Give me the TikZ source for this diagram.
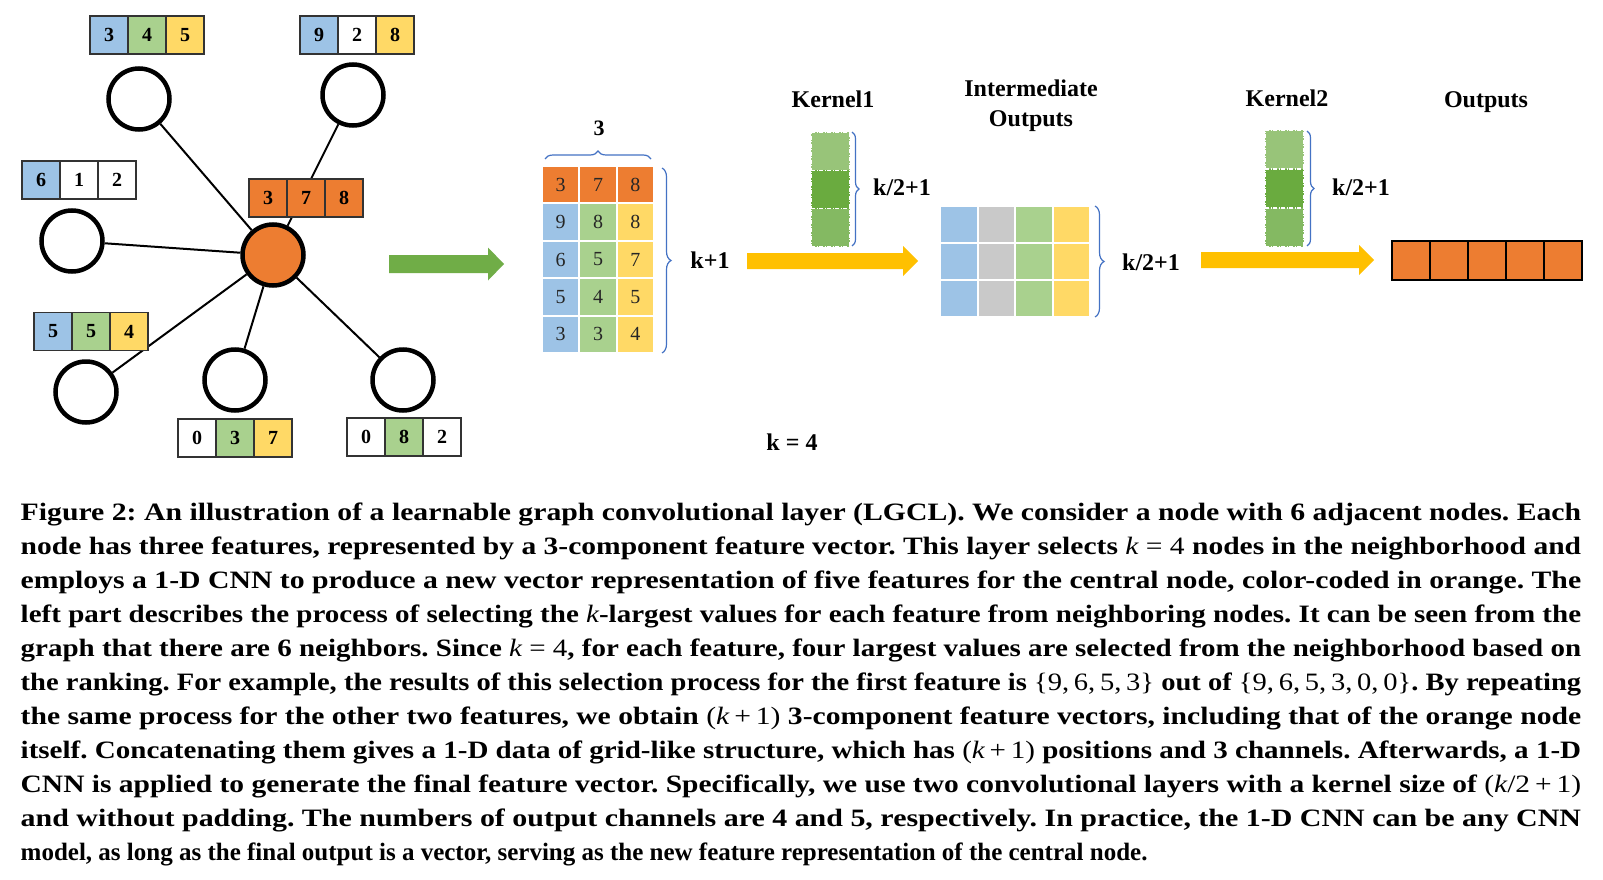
\documentclass[tikz,border=0pt]{standalone}
\usepackage{fontspec}
\setmainfont{Liberation Serif}
\usetikzlibrary{decorations.pathreplacing,calc}
\newcommand\myfs[1]{\fontsize{#1}{#1}\selectfont}
\newcommand\kit{{\mdseries\itshape k}}
\newcommand\fitline[2]{\frenchspacing\setbox0=\hbox{#2}\pgfmathsetmacro\fitsx{#1/\the\wd0}\scalebox{\fitsx}[1]{\box0}}
\definecolor{cblue}{HTML}{9DC3E6}
\definecolor{cgreen}{HTML}{A9D18E}
\definecolor{cyellow}{HTML}{FFD966}
\definecolor{corange}{HTML}{ED7D31}
\definecolor{cgray}{HTML}{C9C9C9}
\definecolor{garrow}{HTML}{70AD47}
\definecolor{yarrow}{HTML}{FFC000}
\definecolor{bracec}{HTML}{4472C4}
\definecolor{kA}{HTML}{98C479}
\definecolor{kB}{HTML}{6AAB3F}
\definecolor{kC}{HTML}{84B962}
\newcommand\featbox[9]{%
  \node[fcell,fill=#4] (#1a) at (#2+19,#3) {#7};
  \node[fcell,fill=#5] (#1b) at (#2+57,#3) {#8};
  \node[fcell,fill=#6] (#1c) at (#2+95,#3) {#9};}
\newcommand\fatarrow[6]{%
  \fill[#6] ($(#1)+(0,-#3)$) -- ($(#2)+(-#5,-#3)$) -- ($(#2)+(-#5,-#4)$) -- (#2)
    -- ($(#2)+(-#5,#4)$) -- ($(#2)+(-#5,#3)$) -- ($(#1)+(0,#3)$) -- cycle;}
\tikzset{
  gnode/.style={circle, draw, line width=4.5pt, fill=white, minimum size=61pt, inner sep=0pt},
  edge/.style={line width=2pt},
  fcell/.style={draw=black!80, line width=1.3pt, minimum width=38pt, minimum height=38pt, inner sep=0pt, font=\bfseries\myfs{20}},
  mcell/.style={draw=white, line width=2pt, minimum width=37.33pt, minimum height=37.4pt, inner sep=0pt, font=\myfs{20}, text=black!85},
  icell/.style={draw=white, line width=2pt, minimum width=37.5pt, minimum height=37pt, inner sep=0pt},
  kcell/.style={draw=white, line width=1.2pt, dash pattern=on 4pt off 1.5pt on 1pt off 1.5pt, minimum width=39pt, minimum height=38.3pt, inner sep=0pt},
  ocell/.style={draw=black, line width=2pt, fill=corange, minimum width=38pt, minimum height=39pt, inner sep=0pt},
  lbl/.style={font=\bfseries\myfs{24}, inner sep=0pt},
  bracedraw/.style={draw=bracec, line width=1.2pt, decorate},
  capline/.style={anchor=base west, inner sep=0pt, font=\bfseries\myfs{25}},
}
\begin{document}
\begin{tikzpicture}[x=1pt,y=-1pt]
\useasboundingbox (0,0) rectangle (1603,880);
\fill[white] (0,0) rectangle (1603,880);
% graph
\node[gnode] (n1) at (139,99) {};
\node[gnode] (n2) at (353,95) {};
\node[gnode] (n3) at (72,241) {};
\node[gnode] (n4) at (86,392) {};
\node[gnode] (n5) at (235,380) {};
\node[gnode] (n6) at (403,380) {};
\node[gnode, fill=corange] (c) at (273,255) {};
\foreach \n in {n1,n2,n3,n4,n5,n6} \draw[edge] (c) -- (\n);
\featbox{fa}{90}{35}{cblue}{cgreen}{cyellow}{3}{4}{5}
\featbox{fb}{300}{35}{cblue}{white}{cyellow}{9}{2}{8}
\featbox{fc}{22}{180}{cblue}{white}{white}{6}{1}{2}
\featbox{fo}{249}{198}{corange}{corange}{corange}{3}{7}{8}
\featbox{fd}{34}{331.5}{cblue}{cgreen}{cyellow}{5}{5}{4}
\featbox{fe}{178}{438}{white}{cgreen}{cyellow}{0}{3}{7}
\featbox{ff}{347}{437}{white}{cgreen}{white}{0}{8}{2}
% green arrow
\coordinate (ga1) at (389,264);
\coordinate (ga2) at (504,264);
\fatarrow{ga1}{ga2}{9}{16.5}{16}{garrow}
% matrix
\foreach \r/\a/\b/\cc/\y in {2/9/8/8/222.1, 3/6/5/7/259.5, 4/5/4/5/296.9, 5/3/3/4/334.3}{
  \node[mcell,fill=cblue] (m\r1) at (560.7,\y) {\a};
  \node[mcell,fill=cgreen] (m\r2) at (598,\y) {\b};
  \node[mcell,fill=cyellow] (m\r3) at (635.3,\y) {\cc};
}
\node[mcell,fill=corange] (m11) at (560.7,184.7) {3};
\node[mcell,fill=corange] (m12) at (598,184.7) {7};
\node[mcell,fill=corange] (m13) at (635.3,184.7) {8};
\draw[bracedraw, decoration={brace, amplitude=8pt}] (545,159) -- (651,159);
\node[lbl, font=\bfseries\myfs{22}] (l3) at (599,128) {3};
\draw[bracedraw, decoration={brace, amplitude=9pt}] (662,168) -- (662,353);
\node[lbl] (lk1) at (710,260) {k+1};
% kernel 1
\node[lbl] (lker1) at (833,99) {Kernel1};
\node[kcell, fill=kA] (k11) at (830.5,151.2) {};
\node[kcell, fill=kB] (k12) at (830.5,189.5) {};
\node[kcell, fill=kC] (k13) at (830.5,227.8) {};
\draw[bracedraw, decoration={brace, amplitude=7pt}] (852,132) -- (852,246);
\node[lbl] (lk2) at (902,187) {k/2+1};
% yellow arrow 1
\coordinate (ya1) at (747,261);
\coordinate (ya2) at (918,261);
\fatarrow{ya1}{ya2}{8}{15}{15}{yarrow}
% intermediate
\node[lbl, align=center] (linter) at (1031,106) {Intermediate\\[6pt]Outputs};
\foreach \r/\y in {1/224.5, 2/261.5, 3/298.5}{
  \node[icell,fill=cblue] (i\r1) at (958.75,\y) {};
  \node[icell,fill=cgray] (i\r2) at (996.25,\y) {};
  \node[icell,fill=cgreen] (i\r3) at (1033.75,\y) {};
  \node[icell,fill=cyellow] (i\r4) at (1071.25,\y) {};
}
\draw[bracedraw, decoration={brace, amplitude=9pt}] (1095,206) -- (1095,317);
\node[lbl] (lk3) at (1151,262) {k/2+1};
% kernel 2
\node[lbl] (lker2) at (1287,98) {Kernel2};
\node[kcell, fill=kA] (k21) at (1284.5,149.5) {};
\node[kcell, fill=kB] (k22) at (1284.5,188.5) {};
\node[kcell, fill=kC] (k23) at (1284.5,227.5) {};
\draw[bracedraw, decoration={brace, amplitude=7pt}] (1307,131) -- (1307,246);
\node[lbl] (lk4) at (1361,187) {k/2+1};
% yellow arrow 2
\coordinate (yb1) at (1201,260);
\coordinate (yb2) at (1374,260);
\fatarrow{yb1}{yb2}{8}{15}{15}{yarrow}
% outputs
\node[lbl] (lout) at (1486,102) {Outputs};
\foreach \i/\x in {1/1411, 2/1449, 3/1487, 4/1525, 5/1563}
  \node[ocell] (o\i) at (\x,260.5) {};
\node[lbl] (lk) at (792,442) {k = 4};
% caption
\node[capline] (cap1) at (20.5,520) {\fitline{1560.5}{Figure 2: An illustration of a learnable graph convolutional layer (LGCL). We consider a node with 6 adjacent nodes. Each}};
\node[capline] (cap2) at (20.5,554.05) {\fitline{1560.5}{node has three features, represented by a 3-component feature vector. This layer selects \kit{\mdseries\ =\ 4} nodes in the neighborhood and}};
\node[capline] (cap3) at (20.5,588.1) {\fitline{1560.5}{employs a 1-D CNN to produce a new vector representation of five features for the central node, color-coded in orange. The}};
\node[capline] (cap4) at (20.5,622.15) {\fitline{1560.5}{left part describes the process of selecting the \kit-largest values for each feature from neighboring nodes. It can be seen from the}};
\node[capline] (cap5) at (20.5,656.2) {\fitline{1560.5}{graph that there are 6 neighbors. Since \kit{\mdseries\ =\ 4}, for each feature, four largest values are selected from the neighborhood based on}};
\node[capline] (cap6) at (20.5,690.25) {\fitline{1560.5}{the ranking. For example, the results of this selection process for the first feature is {\mdseries\{9,\,6,\,5,\,3\}} out of {\mdseries\{9,\,6,\,5,\,3,\,0,\,0\}}. By repeating}};
\node[capline] (cap7) at (20.5,724.3) {\fitline{1560.5}{the same process for the other two features, we obtain {\mdseries(\kit\,+\,1)} 3-component feature vectors, including that of the orange node}};
\node[capline] (cap8) at (20.5,758.35) {\fitline{1560.5}{itself. Concatenating them gives a 1-D data of grid-like structure, which has {\mdseries(\kit\,+\,1)} positions and 3 channels. Afterwards, a 1-D}};
\node[capline] (cap9) at (20.5,792.4) {\fitline{1560.5}{CNN is applied to generate the final feature vector. Specifically, we use two convolutional layers with a kernel size of {\mdseries(\kit/2\,+\,1)}}};
\node[capline] (cap10) at (20.5,826.45) {\fitline{1560.5}{and without padding. The numbers of output channels are 4 and 5, respectively. In practice, the 1-D CNN can be any CNN}};
\node[capline] (cap11) at (20.5,860.5) {\frenchspacing model, as long as the final output is a vector, serving as the new feature representation of the central node.};
\end{tikzpicture}
\end{document}
